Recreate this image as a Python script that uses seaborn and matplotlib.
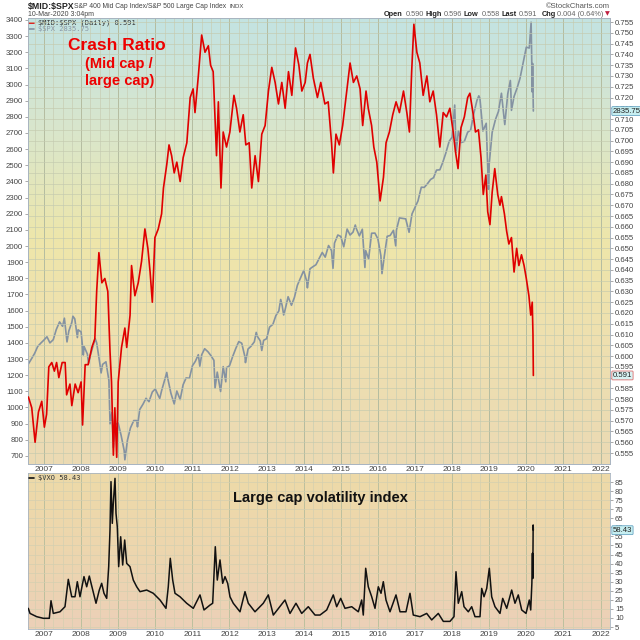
import numpy as np
import pandas as pd
import matplotlib
matplotlib.use("Agg")
import matplotlib.pyplot as plt
import matplotlib.transforms as mtransforms
import seaborn as sns
from matplotlib.colors import LinearSegmentedColormap

# $MID:$SPX ratio (right axis)
ratio_t = [2006.58, 2006.67, 2006.76, 2006.85, 2006.94, 2007.01, 2007.07, 2007.13, 2007.21, 2007.28,
           2007.34, 2007.40, 2007.49, 2007.57, 2007.61, 2007.70, 2007.75, 2007.84, 2007.92, 2008.00,
           2008.04, 2008.11, 2008.19, 2008.29, 2008.37, 2008.42, 2008.48, 2008.56, 2008.64, 2008.72,
           2008.78, 2008.82, 2008.87, 2008.91, 2008.96, 2009.00, 2009.09, 2009.18, 2009.23, 2009.32,
           2009.36, 2009.45, 2009.54, 2009.63, 2009.72, 2009.80, 2009.86, 2009.92, 2009.99, 2010.08,
           2010.17, 2010.22, 2010.31, 2010.37, 2010.44, 2010.51, 2010.58, 2010.67, 2010.75, 2010.85,
           2010.94, 2011.02, 2011.07, 2011.16, 2011.25, 2011.34, 2011.43, 2011.49, 2011.56, 2011.65,
           2011.70, 2011.77, 2011.83, 2011.92, 2012.01, 2012.12, 2012.19, 2012.28, 2012.37, 2012.44,
           2012.53, 2012.60, 2012.69, 2012.78, 2012.87, 2012.96, 2013.05, 2013.14, 2013.23, 2013.32,
           2013.41, 2013.50, 2013.59, 2013.68, 2013.78, 2013.87, 2013.95, 2014.04, 2014.10, 2014.17,
           2014.26, 2014.37, 2014.46, 2014.57, 2014.66, 2014.75, 2014.80, 2014.87, 2014.96, 2015.05,
           2015.14, 2015.25, 2015.34, 2015.43, 2015.52, 2015.59, 2015.68, 2015.74, 2015.83, 2015.89,
           2015.97, 2016.06, 2016.15, 2016.22, 2016.31, 2016.40, 2016.49, 2016.58, 2016.69, 2016.78,
           2016.85, 2016.91, 2016.97, 2017.05, 2017.13, 2017.22, 2017.32, 2017.40, 2017.49, 2017.58,
           2017.67, 2017.76, 2017.85, 2017.94, 2018.03, 2018.09, 2018.16, 2018.24, 2018.33, 2018.42,
           2018.48, 2018.57, 2018.63, 2018.71, 2018.78, 2018.84, 2018.91, 2018.96, 2019.02, 2019.08,
           2019.15, 2019.23, 2019.29, 2019.33, 2019.41, 2019.47, 2019.53, 2019.60, 2019.67, 2019.74,
           2019.80, 2019.87, 2019.94, 2020.00, 2020.07, 2020.12, 2020.16, 2020.18, 2020.19]
ratio_v = [0.581, 0.576, 0.560, 0.574, 0.579, 0.567, 0.573, 0.595, 0.597, 0.593,
           0.597, 0.590, 0.597, 0.597, 0.582, 0.587, 0.577, 0.587, 0.583, 0.588,
           0.568, 0.596, 0.596, 0.604, 0.608, 0.630, 0.648, 0.634, 0.636, 0.630,
           0.602, 0.588, 0.554, 0.576, 0.553, 0.588, 0.604, 0.613, 0.604, 0.619,
           0.642, 0.628, 0.634, 0.644, 0.659, 0.650, 0.639, 0.625, 0.655, 0.659,
           0.666, 0.678, 0.689, 0.698, 0.693, 0.685, 0.690, 0.681, 0.692, 0.699,
           0.720, 0.724, 0.713, 0.730, 0.749, 0.741, 0.744, 0.735, 0.732, 0.693,
           0.718, 0.678, 0.704, 0.697, 0.704, 0.721, 0.715, 0.704, 0.712, 0.698,
           0.699, 0.678, 0.693, 0.681, 0.703, 0.707, 0.723, 0.734, 0.727, 0.717,
           0.727, 0.715, 0.732, 0.721, 0.743, 0.735, 0.723, 0.727, 0.736, 0.740,
           0.729, 0.720, 0.727, 0.717, 0.718, 0.699, 0.685, 0.703, 0.698, 0.707,
           0.720, 0.736, 0.727, 0.730, 0.724, 0.707, 0.723, 0.715, 0.707, 0.697,
           0.690, 0.672, 0.683, 0.699, 0.704, 0.712, 0.718, 0.713, 0.723, 0.713,
           0.704, 0.732, 0.754, 0.741, 0.736, 0.721, 0.730, 0.718, 0.723, 0.712,
           0.697, 0.713, 0.711, 0.715, 0.704, 0.695, 0.687, 0.706, 0.711, 0.720,
           0.722, 0.712, 0.704, 0.705, 0.692, 0.675, 0.684, 0.667, 0.661, 0.676,
           0.687, 0.675, 0.670, 0.674, 0.666, 0.658, 0.652, 0.655, 0.639, 0.650,
           0.642, 0.647, 0.642, 0.636, 0.628, 0.619, 0.625, 0.610, 0.591]

# $SPX overlay (left axis)
spx_t = [2006.58, 2006.67, 2006.75, 2006.83, 2006.92, 2007.00, 2007.08, 2007.16, 2007.25, 2007.33,
         2007.42, 2007.50, 2007.55, 2007.62, 2007.67, 2007.75, 2007.78, 2007.83, 2007.90, 2007.92,
         2008.00, 2008.06, 2008.08, 2008.17, 2008.20, 2008.25, 2008.33, 2008.38, 2008.42, 2008.50,
         2008.54, 2008.58, 2008.67, 2008.75, 2008.78, 2008.83, 2008.87, 2008.92, 2009.00, 2009.08,
         2009.16, 2009.18, 2009.25, 2009.33, 2009.42, 2009.50, 2009.52, 2009.58, 2009.67, 2009.75,
         2009.83, 2009.92, 2010.00, 2010.08, 2010.12, 2010.17, 2010.25, 2010.31, 2010.33, 2010.42,
         2010.50, 2010.51, 2010.58, 2010.67, 2010.75, 2010.83, 2010.92, 2011.00, 2011.08, 2011.16,
         2011.20, 2011.25, 2011.33, 2011.42, 2011.50, 2011.58, 2011.61, 2011.67, 2011.76, 2011.83,
         2011.90, 2011.92, 2012.00, 2012.08, 2012.17, 2012.25, 2012.33, 2012.42, 2012.43, 2012.50,
         2012.58, 2012.67, 2012.72, 2012.75, 2012.83, 2012.87, 2012.92, 2013.00, 2013.08, 2013.17,
         2013.25, 2013.33, 2013.38, 2013.42, 2013.46, 2013.50, 2013.58, 2013.67, 2013.75, 2013.83,
         2013.92, 2014.00, 2014.08, 2014.10, 2014.17, 2014.25, 2014.33, 2014.42, 2014.50, 2014.58,
         2014.67, 2014.75, 2014.79, 2014.83, 2014.92, 2015.00, 2015.08, 2015.17, 2015.25, 2015.33,
         2015.39, 2015.42, 2015.50, 2015.58, 2015.65, 2015.67, 2015.75, 2015.83, 2015.92, 2016.00,
         2016.08, 2016.11, 2016.17, 2016.25, 2016.33, 2016.42, 2016.48, 2016.50, 2016.58, 2016.67,
         2016.75, 2016.84, 2016.92, 2017.00, 2017.08, 2017.17, 2017.25, 2017.33, 2017.42, 2017.50,
         2017.58, 2017.67, 2017.75, 2017.83, 2017.92, 2018.00, 2018.07, 2018.11, 2018.17, 2018.25,
         2018.33, 2018.42, 2018.50, 2018.58, 2018.67, 2018.72, 2018.75, 2018.83, 2018.92, 2018.98,
         2019.00, 2019.08, 2019.17, 2019.25, 2019.33, 2019.42, 2019.50, 2019.57, 2019.58, 2019.60,
         2019.67, 2019.75, 2019.83, 2019.92, 2020.00, 2020.08, 2020.13, 2020.16, 2020.17, 2020.19]
spx_v = [1270, 1304, 1336, 1378, 1400, 1418, 1438, 1400, 1420, 1482,
         1530, 1503, 1553, 1406, 1474, 1527, 1565, 1549, 1433, 1481,
         1468, 1325, 1378, 1330, 1273, 1323, 1386, 1426, 1400, 1280,
         1214, 1267, 1283, 1166, 899, 969, 752, 896, 903, 826,
         735, 676, 798, 873, 919, 919, 880, 987, 1021, 1057,
         1036, 1096, 1115, 1074, 1056, 1104, 1169, 1217, 1187, 1089,
         1031, 1022, 1102, 1049, 1141, 1183, 1181, 1258, 1286, 1327,
         1256, 1326, 1364, 1345, 1321, 1292, 1120, 1219, 1099, 1253,
         1159, 1247, 1258, 1312, 1366, 1408, 1398, 1310, 1278, 1362,
         1379, 1407, 1465, 1441, 1412, 1353, 1416, 1426, 1498, 1515,
         1569, 1598, 1669, 1631, 1573, 1606, 1686, 1633, 1682, 1757,
         1806, 1848, 1783, 1741, 1859, 1872, 1884, 1924, 1960, 1931,
         2003, 1972, 1862, 2018, 2068, 2059, 1995, 2105, 2068, 2086,
         2130, 2107, 2063, 2104, 1867, 1972, 1920, 2079, 2080, 2044,
         1940, 1829, 1932, 2060, 2065, 2097, 2001, 2099, 2174, 2171,
         2168, 2085, 2199, 2239, 2279, 2364, 2363, 2384, 2412, 2423,
         2470, 2472, 2519, 2575, 2648, 2674, 2873, 2581, 2714, 2641,
         2648, 2705, 2718, 2816, 2902, 2930, 2914, 2712, 2760, 2351,
         2507, 2704, 2784, 2834, 2946, 2752, 2942, 3025, 2980, 2840,
         2926, 2977, 3038, 3141, 3231, 3226, 3386, 2954, 3130, 2836]
spx_last = 2835.75

# $VXO, lower panel
vxo_t = [2006.577, 2006.623, 2006.803, 2006.981, 2007.143, 2007.189, 2007.251, 2007.431, 2007.566, 2007.655,
         2007.747, 2007.836, 2007.898, 2007.970, 2008.078, 2008.151, 2008.221, 2008.313, 2008.402, 2008.491,
         2008.555, 2008.617, 2008.690, 2008.744, 2008.779, 2008.806, 2008.841, 2008.868, 2008.914, 2008.941,
         2008.976, 2009.013, 2009.067, 2009.121, 2009.175, 2009.229, 2009.318, 2009.407, 2009.499, 2009.588,
         2009.768, 2009.946, 2010.127, 2010.288, 2010.350, 2010.404, 2010.469, 2010.531, 2010.666, 2010.846,
         2011.024, 2011.205, 2011.313, 2011.474, 2011.547, 2011.617, 2011.671, 2011.744, 2011.817, 2011.879,
         2011.951, 2012.013, 2012.102, 2012.283, 2012.418, 2012.507, 2012.687, 2012.911, 2013.046, 2013.181,
         2013.496, 2013.631, 2013.792, 2013.946, 2014.124, 2014.305, 2014.439, 2014.620, 2014.798, 2014.889,
         2014.997, 2015.113, 2015.294, 2015.472, 2015.563, 2015.606, 2015.671, 2015.741, 2015.833, 2015.922,
         2016.011, 2016.084, 2016.146, 2016.218, 2016.326, 2016.488, 2016.596, 2016.757, 2016.865, 2016.954,
         2017.135, 2017.315, 2017.450, 2017.628, 2017.763, 2017.943, 2018.051, 2018.105, 2018.167, 2018.259,
         2018.321, 2018.437, 2018.528, 2018.617, 2018.752, 2018.798, 2018.860, 2018.933, 2019.003, 2019.067,
         2019.156, 2019.291, 2019.364, 2019.472, 2019.606, 2019.695, 2019.784, 2019.876, 2019.992, 2020.081,
         2020.119, 2020.150, 2020.165, 2020.175, 2020.185, 2020.190]
vxo_v = [15.3, 12.5, 10.7, 9.8, 9.8, 19.5, 12.5, 13.4, 16.2, 31.3,
         21.7, 21.7, 30.0, 21.7, 32.8, 27.2, 33.1, 25.4, 18.1, 25.4,
         29.1, 23.6, 20.8, 38.3, 58.5, 85.2, 62.2, 73.2, 87.0, 67.7,
         60.3, 38.3, 54.8, 39.2, 53.0, 40.1, 38.3, 30.9, 27.2, 24.5,
         25.4, 23.6, 19.9, 15.3, 27.2, 42.9, 30.9, 23.6, 21.7, 18.1,
         15.3, 22.7, 14.4, 17.1, 18.1, 49.3, 30.9, 42.0, 29.1, 32.8,
         29.1, 21.7, 18.1, 13.4, 24.5, 18.1, 13.4, 18.1, 22.7, 11.6,
         19.9, 12.5, 18.1, 12.5, 16.2, 11.6, 11.6, 14.4, 22.7, 16.2,
         20.8, 15.3, 16.2, 13.4, 19.9, 11.6, 37.4, 27.2, 21.7, 15.3,
         27.2, 23.6, 30.0, 19.9, 13.4, 22.7, 13.4, 13.4, 23.6, 11.6,
         10.7, 12.5, 8.9, 12.5, 8.1, 8.1, 10.7, 35.5, 18.1, 24.5,
         16.2, 13.4, 16.2, 10.7, 10.7, 26.3, 21.7, 26.3, 37.4, 21.7,
         16.2, 12.5, 20.8, 15.3, 25.4, 18.1, 22.7, 14.4, 12.5, 19.9,
         14.4, 29.1, 45.7, 31.8, 61.3, 58.43]

years = list(range(2007, 2023))
ratio_ticks = [round(0.555 + 0.005 * i, 3) for i in range(41)]
spx_ticks = list(range(700, 3500, 100))
vxo_ticks = list(range(5, 90, 5))

sns.set_style("white")
plt.rcParams['font.family'] = ['Liberation Sans', 'DejaVu Sans']

W, H = 640, 640
X0, X1 = 28, 610
RED = "#e00000"
GREY = "#8492a2"


def fx(px):
    return px / W


def fy(py):
    return 1 - py / H


def gradient_bg(ax, colors):
    cmap = LinearSegmentedColormap.from_list("bg", colors)
    grad = np.linspace(0, 1, 256).reshape(-1, 1)
    ax.imshow(grad, cmap=cmap, aspect="auto", extent=[0, 1, 0, 1],
              transform=ax.transAxes, origin="upper", zorder=0)


def style_time_axis(ax):
    ax.set_xlim(2006.569, 2022.256)
    ax.set_xticks(years)
    ax.set_xticks(np.arange(2006.75, 2022.3, 0.25), minor=True)
    ax.set_xticklabels([str(y) for y in years])
    ax.tick_params(axis="x", which="both", length=0, labelsize=6, pad=1.5, colors="#444444")
    ax.set_xlabel("")


def style_value_axis(ax):
    ax.tick_params(axis="y", length=2.5, width=0.5, color="#888888", labelsize=5.6,
                   pad=1, colors="#444444")
    ax.set_ylabel("")
    for s in ax.spines.values():
        s.set_color("#a8b4c0")
        s.set_linewidth(0.6)


def last_box(host, yaxis_of, value, label, edge, face):
    # value tag on the right edge, drawn on `host` so it sits above its tick labels
    trans = mtransforms.blended_transform_factory(host.transAxes, yaxis_of.transData)
    host.annotate(label, xy=(1.0, value), xycoords=trans,
                  xytext=(2, 0), textcoords="offset points", fontsize=5.6, va="center",
                  color="#222222", annotation_clip=False, zorder=6,
                  bbox=dict(boxstyle="round,pad=0.12", fc=face, ec=edge, lw=0.6))


fig = plt.figure(figsize=(6.4, 6.4), dpi=100)

# ---- upper panel: SPX on the left axis, ratio on the right axis ----
ax = fig.add_axes([fx(X0), fy(464), (X1 - X0) / W, (464 - 18) / H])
gradient_bg(ax, ["#c3e3e2", "#d9e6cc", "#eee6aa", "#eedfb0", "#ebdab4"])
spx_df = pd.DataFrame({"t": spx_t, "v": spx_v})
sns.lineplot(data=spx_df, x="t", y="v", ax=ax, color=GREY, lw=1.2,
             sort=False, estimator=None, zorder=2)
ax.set_ylim(650, 3412)
ax.set_yticks(spx_ticks)
ax.set_yticklabels([str(v) for v in spx_ticks])
style_value_axis(ax)
style_time_axis(ax)
ax.grid(axis="x", which="major", color="#b4bca0", lw=0.7)
ax.grid(axis="x", which="minor", color="#c8ceb4", lw=0.5)

tw = ax.twinx()
tw.patch.set_alpha(0)
ratio_df = pd.DataFrame({"t": ratio_t, "v": ratio_v})
sns.lineplot(data=ratio_df, x="t", y="v", ax=tw, color=RED, lw=1.2,
             sort=False, estimator=None, zorder=3)
tw.set_ylim(0.5499, 0.7569)
tw.set_yticks(ratio_ticks)
tw.set_yticklabels([f"{v:.3f}" for v in ratio_ticks])
style_value_axis(tw)
tw.grid(axis="y", color="#c4caae", lw=0.5, alpha=0.9)
tw.set_axisbelow(True)

# legend and notes
ax.plot([0.002, 0.011], [0.9899, 0.9899], transform=ax.transAxes, color=RED, lw=1.2, zorder=5)
ax.plot([0.002, 0.011], [0.9753, 0.9753], transform=ax.transAxes, color=GREY, lw=1.2, zorder=5)
ax.text(0.0172, 0.9899, "\\$MID:\\$SPX (Daily) 0.591", transform=ax.transAxes, fontsize=5,
        family="DejaVu Sans Mono", va="center", color="#333333", zorder=5)
ax.text(0.0172, 0.9753, f"\\$SPX {spx_last:.2f}", transform=ax.transAxes, fontsize=5,
        family="DejaVu Sans Mono", va="center", color="#8a96a4", zorder=5)
tw.text(0.152, 0.938, "Crash Ratio", transform=tw.transAxes, fontsize=12.5,
        weight="bold", color="#ee0000", ha="center", va="center")
tw.text(0.1555, 0.897, "(Mid cap /", transform=tw.transAxes, fontsize=10.5,
        weight="bold", color="#ee0000", ha="center", va="center")
tw.text(0.157, 0.859, "large cap)", transform=tw.transAxes, fontsize=10.5,
        weight="bold", color="#ee0000", ha="center", va="center")

last_box(tw, ax, spx_last, f"{spx_last:.2f}", "#6aa6c4", "#c6eef0")
last_box(tw, tw, ratio_v[-1], f"{ratio_v[-1]:.3f}", "#e07070", "#d8f2f2")

# ---- lower panel: VXO ----
bx = fig.add_axes([fx(X0), fy(629), (X1 - X0) / W, (629 - 473) / H])
gradient_bg(bx, ["#eedaa8", "#edd6ae", "#ecd0b8"])
vxo_df = pd.DataFrame({"t": vxo_t, "v": vxo_v})
sns.lineplot(data=vxo_df, x="t", y="v", ax=bx, color="#111111", lw=1.1,
             sort=False, estimator=None, zorder=3)
bx.set_ylim(3.9, 89.97)
bx.yaxis.tick_right()
bx.set_yticks(vxo_ticks)
bx.set_yticklabels([str(v) for v in vxo_ticks])
style_value_axis(bx)
style_time_axis(bx)
bx.grid(axis="x", which="major", color="#bcc09e", lw=0.7)
bx.grid(axis="x", which="minor", color="#d4cfb0", lw=0.5)
bx.grid(axis="y", color="#d4cfb0", lw=0.5)
bx.set_axisbelow(True)

bx.plot([0.002, 0.011], [0.968, 0.968], transform=bx.transAxes, color="#111111", lw=1.2, zorder=5)
bx.text(0.0172, 0.968, f"\\$VXO {vxo_v[-1]:.2f}", transform=bx.transAxes, fontsize=5,
        family="DejaVu Sans Mono", va="center", color="#333333", zorder=5)
bx.text(0.503, 0.84, "Large cap volatility index", transform=bx.transAxes, fontsize=10.5,
        weight="bold", color="#111111", ha="center", va="center")
last_box(bx, bx, vxo_v[-1], f"{vxo_v[-1]:.2f}", "#6aa6c4", "#c6eef0")

# ---- header ----
fig.text(fx(28), fy(6), "\\$MID:\\$SPX", fontsize=6.3, weight="bold", va="center", color="#222222")
fig.text(fx(74), fy(6), "S&P 400 Mid Cap Index/S&P 500 Large Cap Index", fontsize=4.9,
         va="center", color="#444444")
fig.text(fx(229), fy(6), "INDX", fontsize=4.3, va="center", color="#444444")
fig.text(fx(28), fy(14), "10-Mar-2020 3:04pm", fontsize=5, va="center", color="#444444")
fig.text(fx(610), fy(6), "\u00a9StockCharts.com", fontsize=5.5, va="center", ha="right",
         color="#555555")
header = [(384, "Open", True), (405.7, "0.590", False), (426, "High", True), (444, "0.596", False),
          (464, "Low", True), (481.7, "0.558", False), (501, "Last", True), (519, "0.591", False),
          (542, "Chg", True), (557, "0.004 (0.64%)", False)]
for px, txt, bold in header:
    fig.text(fx(px), fy(14), txt, fontsize=5.3, va="center",
             weight="bold" if bold else "normal", color="#222222" if bold else "#666666")
fig.text(fx(605), fy(14), "\u25bc", fontsize=4.5, va="center", color="#c02040",
         family="DejaVu Sans")

fig.savefig("out.png", dpi=100)
